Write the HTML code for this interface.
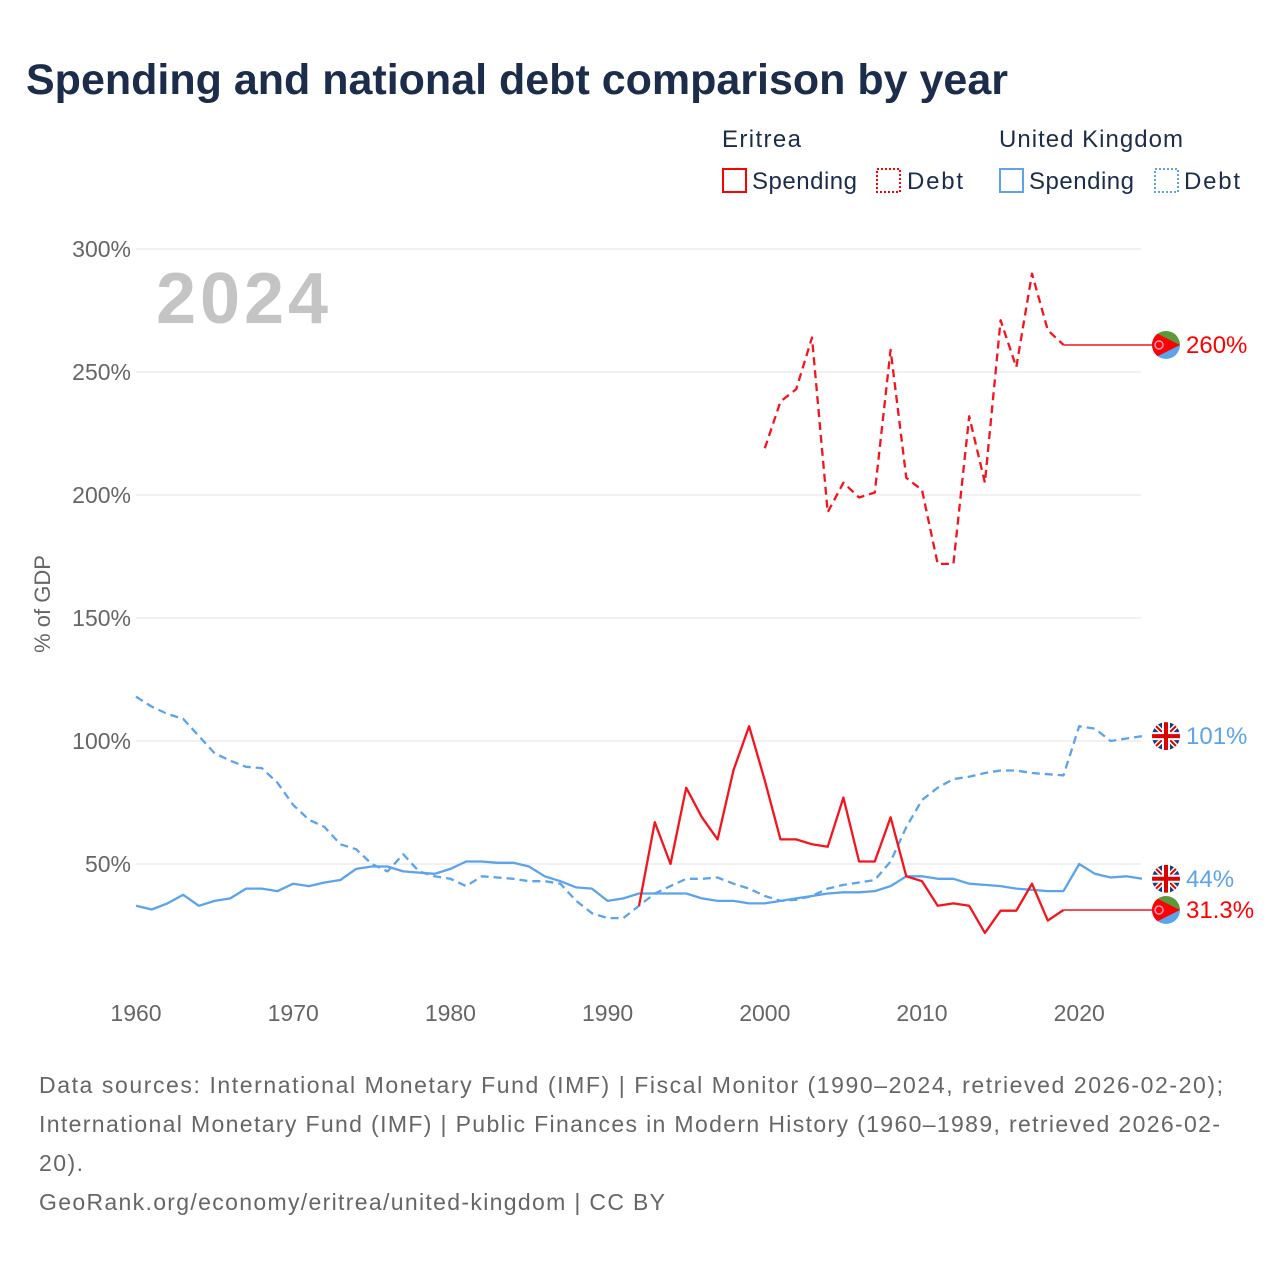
<!DOCTYPE html>
<html><head><meta charset="utf-8">
<style>
body{margin:0;background:#fff;width:1280px;height:1280px;overflow:hidden;font-family:"Liberation Sans",sans-serif}
</style></head>
<body>
<svg id="chart" width="1280" height="1280" xmlns="http://www.w3.org/2000/svg" font-family="Liberation Sans, sans-serif">
<text x="26" y="94" font-size="43" font-weight="bold" fill="#1b2d4b">Spending and national debt comparison by year</text>
<g font-size="24" fill="#1b2d4b">
<text x="722" y="147" textLength="79">Eritrea</text>
<text x="999" y="147" textLength="184">United Kingdom</text>
<g><rect x="723" y="169" width="23" height="23" fill="none" stroke="#f00" stroke-width="2"/><text x="752" y="189" textLength="105">Spending</text></g>
<g><rect x="877" y="169" width="23" height="23" fill="none" stroke="#f00" stroke-width="2" stroke-dasharray="2,2"/><text x="907" y="189" textLength="56">Debt</text></g>
<g><rect x="1000" y="169" width="23" height="23" fill="none" stroke="#5ba3ec" stroke-width="2"/><text x="1029" y="189" textLength="105">Spending</text></g>
<g><rect x="1155" y="169" width="23" height="23" fill="none" stroke="#5ba3ec" stroke-width="2" stroke-dasharray="2,2"/><text x="1184" y="189" textLength="56">Debt</text></g>
</g>
<g id="grid"></g>
<text x="156" y="323" font-size="72" font-weight="bold" fill="#c4c4c4" textLength="172">2024</text>
<text transform="translate(50,604) rotate(-90)" text-anchor="middle" font-size="22" fill="#666">% of GDP</text>
<g id="series"></g>
<g font-size="23" fill="#666">
<text x="39" y="1093" textLength="1184">Data sources: International Monetary Fund (IMF) | Fiscal Monitor (1990–2024, retrieved 2026-02-20);</text>
<text x="39" y="1132" textLength="1181">International Monetary Fund (IMF) | Public Finances in Modern History (1960–1989, retrieved 2026-02-</text>
<text x="39" y="1171" textLength="44">20).</text>
<text x="39" y="1210" textLength="626">GeoRank.org/economy/eritrea/united-kingdom | CC BY</text>
</g>
</svg>
<script>
const yTicks=[50,100,150,200,250,300];
const xTicks=[1960,1970,1980,1990,2000,2010,2020];
const ukYears=[];for(let y=1960;y<=2024;y++)ukYears.push(y);
const ukSpending=[33,31.5,34,37.5,33,35,36,40,40,39,42,41,42.5,43.5,48,49,49,47,46.5,46,48,51,51,50.5,50.5,49,45,43,40.5,40,35,36,38,38,38,38,36,35,35,34,34,35,36,37,38,38.5,38.5,39,41,45,45,44,44,42,41.5,41,40,39.5,39,39,50,46,44.5,45,44];
const ukDebt=[118,114,111,109,102,95,92,89.5,89,83,74,68,65,58,56,50,47,54,47,45,44,41,45,44.5,44,43,43,42,35,30,28,28,33,38,41,44,44,44.5,42,40,37,35,35.5,37,40,41.5,42.5,43.5,51,65,76,81,84.5,85.5,87,88,88,87,86.5,86,106,105,100,101,102];
const erSpYears=[];for(let y=1992;y<=2019;y++)erSpYears.push(y);
const erSpending=[33,67,50,81,69,60,88,106,84,60,60,58,57,77,51,51,69,45,43,33,34,33,22,31,31,42,27,31.3];
const erDebtYears=[];for(let y=2000;y<=2019;y++)erDebtYears.push(y);
const erDebt=[219,238,243,264,193,205,199,201,259,207,202,172,172,232,205,271,252,290,267,261];
const xs=y=>136+(y-1960)*15.72;
const ys=v=>987-v*2.46;
const NS='http://www.w3.org/2000/svg';
const grid=document.getElementById('grid'),ser=document.getElementById('series');
function mk(tag,attrs,parent){const e=document.createElementNS(NS,tag);for(const k in attrs)e.setAttribute(k,attrs[k]);parent.appendChild(e);return e;}
yTicks.forEach(v=>{
 const l=mk('line',{x1:136,x2:1141,y1:ys(v),y2:ys(v),stroke:'#e3e3e3','stroke-width':1},grid);
 
 
 const t=mk('text',{x:131,y:ys(v)+8,'text-anchor':'end','font-size':23,fill:'#666'},grid);
 t.textContent=v+'%';
 
 
});
xTicks.forEach(y=>{
 const t=mk('text',{x:xs(y),y:1021,'text-anchor':'middle','font-size':23,fill:'#666'},grid);
 t.textContent=y;
 
 
});
function line(years,vals,color,dash,name){
 const d=years.map((y,i)=>(i?'L':'M')+xs(y).toFixed(1)+' '+ys(vals[i]).toFixed(1)).join(' ');
 const p=mk('path',{d:d,fill:'none',stroke:color,'stroke-width':2.3,'stroke-dasharray':dash||'none','stroke-linejoin':'round'},ser);
 
 
}
const RED='#f5141e',BLUE='#5ba3ec',MX=1166;
line(ukYears,ukDebt,BLUE,'8,5','uk-debt-line');
line(ukYears,ukSpending,BLUE,'','uk-spending-line');
line(erDebtYears,erDebt,RED,'8,5','eritrea-debt-line');
line(erSpYears,erSpending,RED,'','eritrea-spending-line');
const e1=mk('line',{x1:xs(2019),x2:MX,y1:ys(erDebt[erDebt.length-1]),y2:ys(erDebt[erDebt.length-1]),stroke:RED,'stroke-width':1.5},ser);


const e2=mk('line',{x1:xs(2019),x2:MX,y1:ys(erSpending[erSpending.length-1]),y2:ys(erSpending[erSpending.length-1]),stroke:RED,'stroke-width':1.5},ser);


function erFlag(cy,name,label){
 const g=mk('g',{},ser);
 
 
 const cp=mk('clipPath',{id:'c'+name},g);mk('circle',{cx:MX,cy:cy,r:14},cp);
 const inner=mk('g',{'clip-path':'url(#c'+name+')'},g);
 mk('rect',{x:MX-14,y:cy-14,width:28,height:14,fill:'#5a9a3c'},inner);
 mk('rect',{x:MX-14,y:cy,width:28,height:14,fill:'#5ba3ec'},inner);
 mk('polygon',{points:`${MX-14},${cy-14} ${MX+14},${cy} ${MX-14},${cy+14}`,fill:'#f00'},inner);
 mk('circle',{cx:MX-7,cy:cy,r:4,fill:'none',stroke:'#f9c','stroke-width':1.5},inner);
 const t=mk('text',{x:MX+20,y:cy+8,'font-size':24,fill:'#f00'},g);t.textContent=label;
}
function ukFlag(cy,name,label){
 const g=mk('g',{},ser);
 
 
 const cp=mk('clipPath',{id:'c'+name},g);mk('circle',{cx:MX,cy:cy,r:14},cp);
 const inner=mk('g',{'clip-path':'url(#c'+name+')'},g);
 mk('rect',{x:MX-14,y:cy-14,width:28,height:28,fill:'#1f3a7a'},inner);
 mk('path',{d:`M${MX-14} ${cy-14}L${MX+14} ${cy+14}M${MX+14} ${cy-14}L${MX-14} ${cy+14}`,stroke:'#fff','stroke-width':5},inner);
 mk('path',{d:`M${MX-14} ${cy-14}L${MX+14} ${cy+14}M${MX+14} ${cy-14}L${MX-14} ${cy+14}`,stroke:'#d00','stroke-width':2},inner);
 mk('path',{d:`M${MX} ${cy-14}V${cy+14}M${MX-14} ${cy}H${MX+14}`,stroke:'#fff','stroke-width':8},inner);
 mk('path',{d:`M${MX} ${cy-14}V${cy+14}M${MX-14} ${cy}H${MX+14}`,stroke:'#d00','stroke-width':4},inner);
 const t=mk('text',{x:MX+20,y:cy+8,'font-size':24,fill:BLUE},g);t.textContent=label;
}
erFlag(ys(erDebt[erDebt.length-1]),'eritrea-debt-marker','260%');
ukFlag(ys(ukDebt[ukDebt.length-1]),'uk-debt-marker','101%');
ukFlag(ys(ukSpending[ukSpending.length-1]),'uk-spending-marker','44%');
erFlag(ys(erSpending[erSpending.length-1]),'eritrea-spending-marker','31.3%');
</script>
</body></html>
